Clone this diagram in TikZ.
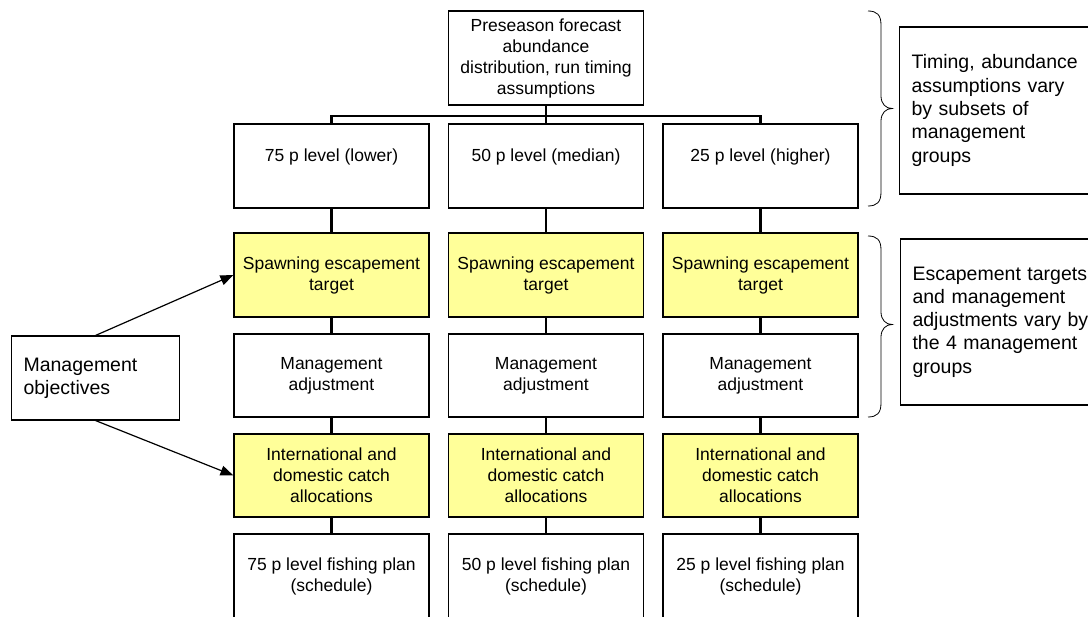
\documentclass[tikz,border=0pt]{standalone}
\usepackage{fontspec}
\setmainfont{Liberation Sans}
\usetikzlibrary{arrows.meta}
\definecolor{boxyellow}{RGB}{255,255,153}
\begin{document}
\begin{tikzpicture}[x=1pt,y=-1pt,
  box/.style={draw=black,line width=1.1pt,rectangle,minimum width=195pt,inner sep=0pt,align=center,font=\fontsize{17.5}{21}\selectfont},
  ybox/.style={box,fill=boxyellow},
  notebox/.style={draw=black,line width=1.1pt,rectangle,inner xsep=12pt,inner ysep=0pt,align=left,font=\fontsize{19.5}{23.3}\selectfont},
  conn/.style={line width=2.2pt,black},
  arr/.style={line width=1.2pt,black,-{Triangle[length=13pt,width=10pt]}},
  bracestyle/.style={line width=0.8pt,black}
]
\useasboundingbox (0,0) rectangle (1088,617);
\clip (0,0) rectangle (1088,617);

% top box
\node[box,minimum height=94pt] (top) at (546,58) {Preseason forecast\\abundance\\distribution, run timing\\assumptions};

% row 1
\node[box,minimum height=84pt] (p1) at (331.5,166) {75 p level (lower)\\\mbox{}};
\node[box,minimum height=84pt] (p2) at (546,166) {50 p level (median)\\\mbox{}};
\node[box,minimum height=84pt] (p3) at (760.5,166) {25 p level (higher)\\\mbox{}};

% row 2
\node[ybox,minimum height=84pt] (s1) at (331.5,275) {Spawning escapement\\target};
\node[ybox,minimum height=84pt] (s2) at (546,275) {Spawning escapement\\target};
\node[ybox,minimum height=84pt] (s3) at (760.5,275) {Spawning escapement\\target};

% row 3
\node[box,minimum height=83pt] (m1) at (331.5,375.5) {Management\\adjustment};
\node[box,minimum height=83pt] (m2) at (546,375.5) {Management\\adjustment};
\node[box,minimum height=83pt] (m3) at (760.5,375.5) {Management\\adjustment};

% row 4
\node[ybox,minimum height=83pt] (a1) at (331.5,475.5) {International and\\domestic catch\\allocations};
\node[ybox,minimum height=83pt] (a2) at (546,475.5) {International and\\domestic catch\\allocations};
\node[ybox,minimum height=83pt] (a3) at (760.5,475.5) {International and\\domestic catch\\allocations};

% row 5
\node[box,minimum height=85pt] (f1) at (331.5,576.5) {75 p level fishing plan\\(schedule)};
\node[box,minimum height=85pt] (f2) at (546,576.5) {50 p level fishing plan\\(schedule)};
\node[box,minimum height=85pt] (f3) at (760.5,576.5) {25 p level fishing plan\\(schedule)};

% management objectives
\node[notebox,anchor=west,text width=144pt,minimum height=84pt] (mo) at (11,378) {Management\\objectives};

% right note boxes
\node[notebox,anchor=west,text width=190pt,minimum height=167pt] (n1) at (899,110.5) {Timing, abundance\\assumptions vary\\by subsets of\\management\\groups};
\node[notebox,anchor=west,text width=190pt,minimum height=166pt] (n2) at (900,322) {Escapement targets\\and management\\adjustments vary by\\the 4 management\\groups};

% tree connectors
\coordinate (j) at (546,116);
\draw[conn] (top.south) -- (j);
\draw[conn] (p1.north) -- (p1.north |- j) -- (p3.north |- j) -- (p3.north);
\draw[conn] (j) -- (p2.north);
\foreach \c in {1,2,3}{
  \draw[conn] (p\c.south) -- (s\c.north);
  \draw[conn] (s\c.south) -- (m\c.north);
  \draw[conn] (m\c.south) -- (a\c.north);
  \draw[conn] (a\c.south) -- (f\c.north);
}

% arrows
\draw[arr] (mo.north) -- (s1.west);
\draw[arr] (mo.south) -- (a1.west);

% braces
\draw[bracestyle] (868,11) .. controls (877,11) and (881,15) .. (881,25) -- (881,96)
  .. controls (881,104) and (886,108.5) .. (892,108.5)
  .. controls (886,108.5) and (881,113) .. (881,121) -- (881,192)
  .. controls (881,202) and (877,206) .. (868,206);
\draw[bracestyle] (868,236) .. controls (877,236) and (881,240) .. (881,250) -- (881,312)
  .. controls (881,320) and (886,324.5) .. (892,324.5)
  .. controls (886,324.5) and (881,329) .. (881,337) -- (881,403)
  .. controls (881,413) and (877,417) .. (868,417);
\end{tikzpicture}
\end{document}
